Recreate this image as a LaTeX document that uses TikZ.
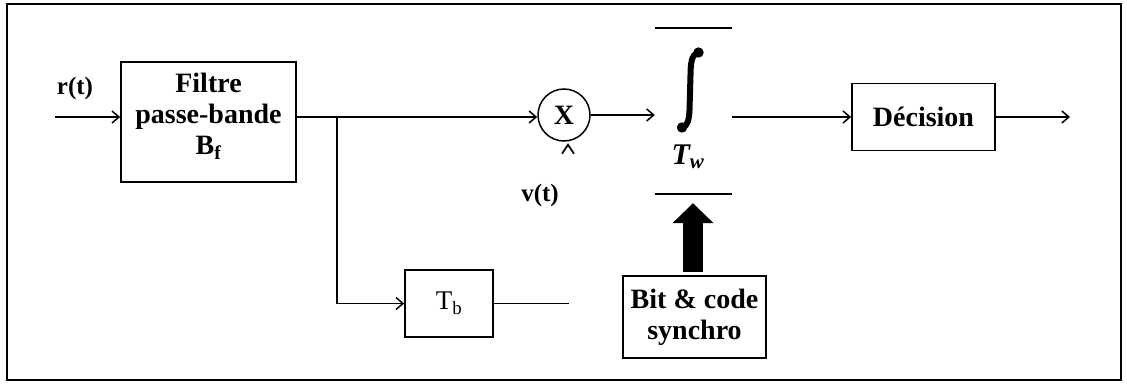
\documentclass[tikz,border=0pt]{standalone}
\usepackage{fontspec}
\setmainfont{Liberation Serif}
\usetikzlibrary{arrows.meta,calc}
\begin{document}
\begin{tikzpicture}[x=1pt,y=-1pt,
  every node/.style={font=\fontsize{28}{31}\selectfont\bfseries},
  blockbox/.style={draw,line width=1.7pt,rectangle,inner sep=0pt,align=center},
  wire/.style={line width=1.5pt},
  arr/.style={wire,-{Straight Barb[length=7pt,width=12pt,line width=1.5pt]}}]
\useasboundingbox (0,0) rectangle (1127,383);
\draw[line width=1.8pt] (7,4) rectangle (1121,380);
% blocks
\node[blockbox,minimum width=175pt,minimum height=120pt] (filt) at (208.5,122) {};
\node[align=center,inner sep=0pt] (filttxt) at (208.5,116) {Filtre\\passe-bande\\B\textsubscript{f}};
\node[draw,circle,line width=1.5pt,minimum size=52pt,inner sep=0pt] (mult) at (564,115) {X};
\node[minimum width=77pt,minimum height=166pt,inner sep=0pt] (intbox) at (693.5,111) {};
\node[inner sep=0pt] (tw) at (688,157) {\fontsize{30}{30}\selectfont\itshape T\textsubscript{w}};
\node[blockbox,minimum width=143pt,minimum height=67pt] (dec) at (923.5,117) {Décision};
\node[blockbox,minimum width=88pt,minimum height=67pt,font=\fontsize{27}{31}\selectfont] (tb) at (449,303.5) {T\textsubscript{b}};
\node[blockbox,minimum width=143pt,minimum height=82pt] (bit) at (694.5,317) {Bit \& code\\synchro};
% labels
\node[font=\fontsize{25}{30}\selectfont\bfseries] (rl) at (75,88) {r(t)};
\node[font=\fontsize{25}{30}\selectfont\bfseries] (vl) at (540,195) {v(t)};
% coordinates
\coordinate (inp) at (55,117);
\coordinate (br) at (337,117);
\coordinate (out) at (1070,117);
\coordinate (tbend) at (569,303.5);
% integrator bars
\draw[line width=1.7pt] (intbox.north west) -- (intbox.north east);
\draw[line width=1.7pt] (intbox.south west) -- (intbox.south east);
% integral sign
\draw[line width=6pt] (697,53) .. controls (692,55) and (690.5,63) .. (690.5,75) -- (689.5,110) .. controls (689,121) and (687,126) .. (683,127);
\fill (698.5,52.5) circle (5.2pt);
\fill (682,127.5) circle (5.2pt);
% connectors
\draw[arr] (inp) -- (inp -| filt.west);
\draw[wire] (br -| filt.east) -- (br);
\draw[arr] (br) -- (br -| mult.west);
\draw[arr] (br) -- (br |- tb.west) -- (tb.west);
\draw[wire] (tb.east) -- (tbend);
\draw[arr] (mult.east) -- (mult.east -| intbox.west);
\draw[arr] (intbox.east |- dec.west) -- (dec.west);
\draw[arr] (dec.east) -- (out);
% caret under multiplier
\draw[line width=1.7pt] ($(mult.south)+(-2,12)$) -- ($(mult.south)+(4,3)$) -- ($(mult.south)+(10,12)$);
% thick synchro arrow
\draw[line width=20pt,-{Triangle[length=20pt,width=40pt]}] ($(bit.north)+(-1.5,-3)$) -- ($(intbox.south)+(-0.5,9)$);
\end{tikzpicture}
\end{document}
